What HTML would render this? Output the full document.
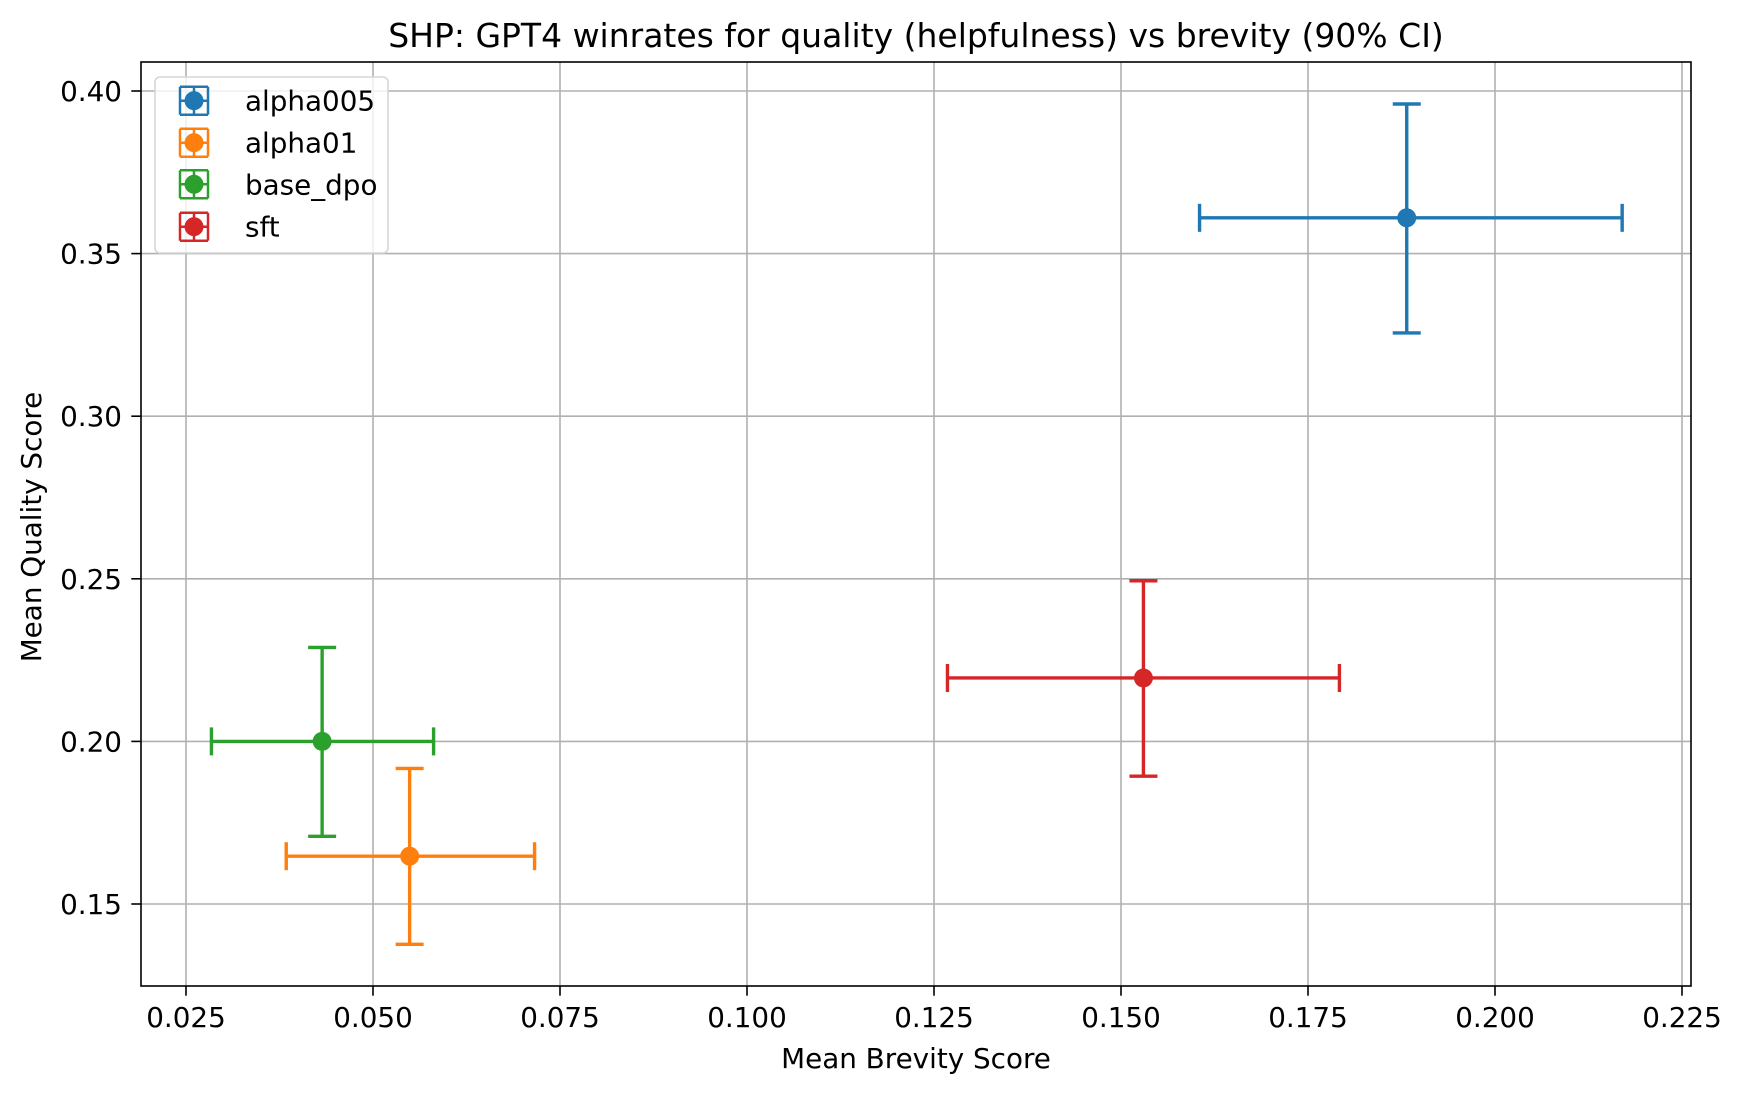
<!DOCTYPE html>
<html><head><meta charset="utf-8"><style>
html,body{margin:0;padding:0;background:#fff;}
svg{display:block;font-family:"DejaVu Sans","Liberation Sans",sans-serif;}
</style></head><body>
<svg id="chart" width="1741" height="1093" viewBox="0 0 1741 1093" xmlns="http://www.w3.org/2000/svg">
<rect x="0" y="0" width="1741" height="1093" fill="#fff"/>
<g id="grid"></g>
<g id="marks"></g>
<g id="axes"></g>
<text x="916" y="47" text-anchor="middle" font-size="33" fill="#000">SHP: GPT4 winrates for quality (helpfulness) vs brevity (90% CI)</text>
<text x="916" y="1068" text-anchor="middle" font-size="27.8" fill="#000">Mean Brevity Score</text>
<text x="0" y="0" transform="translate(41,527) rotate(-90)" text-anchor="middle" font-size="27.8" fill="#000">Mean Quality Score</text>
<g id="legend"></g>
</svg>
<script>
const seriesNames = ["alpha005","alpha01","base_dpo","sft"];
const seriesColors = ["#1f77b4","#ff7f0e","#2ca02c","#d62728"];
const xMean = [0.1882, 0.0549, 0.0432, 0.1530];
const yMean = [0.3610, 0.1647, 0.2000, 0.2195];
const xLow  = [0.1605, 0.0384, 0.0284, 0.1268];
const xHigh = [0.2170, 0.0716, 0.0581, 0.1792];
const yLow  = [0.3256, 0.1376, 0.1708, 0.1893];
const yHigh = [0.3960, 0.1917, 0.2289, 0.2494];
const xTicks = [0.025,0.050,0.075,0.100,0.125,0.150,0.175,0.200,0.225];
const xTickLabels = ["0.025","0.050","0.075","0.100","0.125","0.150","0.175","0.200","0.225"];
const yTicks = [0.15,0.20,0.25,0.30,0.35,0.40];
const yTickLabels = ["0.15","0.20","0.25","0.30","0.35","0.40"];

const L=141, R=1691, T=62, B=986;
function xs(v){return 186 + (v-0.025)/0.025*187;}
function ys(v){return 91 + (0.40-v)/0.05*162.6;}
const NS="http://www.w3.org/2000/svg";
function mk(tag, attrs, parent){const e=document.createElementNS(NS,tag);for(const k in attrs)e.setAttribute(k,attrs[k]);parent.appendChild(e);return e;}
const grid=document.getElementById('grid'), axes=document.getElementById('axes'), marks=document.getElementById('marks'), legend=document.getElementById('legend');

xTicks.forEach((t,i)=>{
  const x=xs(t);
  const g=mk('line',{x1:x,x2:x,y1:T,y2:B,stroke:'#b0b0b0','stroke-width':1.6},grid);
  
  
  const tk=mk('line',{x1:x,x2:x,y1:B,y2:B+9.7,stroke:'#000','stroke-width':1.6},axes);
  
  
  const lb=mk('text',{x:x,y:B+41,'text-anchor':'middle','font-size':27.8,fill:'#000'},axes);
  lb.textContent=xTickLabels[i];
  
  
});
yTicks.forEach((t,i)=>{
  const y=ys(t);
  const g=mk('line',{x1:L,x2:R,y1:y,y2:y,stroke:'#b0b0b0','stroke-width':1.6},grid);
  
  
  const tk=mk('line',{x1:L-9.7,x2:L,y1:y,y2:y,stroke:'#000','stroke-width':1.6},axes);
  
  
  const lb=mk('text',{x:L-19,y:y+10,'text-anchor':'end','font-size':27.8,fill:'#000'},axes);
  lb.textContent=yTickLabels[i];
  
  
});
const frame=mk('rect',{x:L,y:T,width:R-L,height:B-T,fill:'none',stroke:'#000','stroke-width':1.6},axes);



const cap=14, lw=3.4;
seriesNames.forEach((n,i)=>{
  const c=seriesColors[i];
  const g=mk('g',{},marks);
  
  
  const cx=xs(xMean[i]), cy=ys(yMean[i]);
  const x0=xs(xLow[i]), x1=xs(xHigh[i]), y0=ys(yLow[i]), y1=ys(yHigh[i]);
  mk('line',{x1:x0,x2:x1,y1:cy,y2:cy,stroke:c,'stroke-width':lw},g);
  mk('line',{x1:cx,x2:cx,y1:y0,y2:y1,stroke:c,'stroke-width':lw},g);
  mk('line',{x1:x0,x2:x0,y1:cy-cap,y2:cy+cap,stroke:c,'stroke-width':lw},g);
  mk('line',{x1:x1,x2:x1,y1:cy-cap,y2:cy+cap,stroke:c,'stroke-width':lw},g);
  mk('line',{x1:cx-cap,x2:cx+cap,y1:y0,y2:y0,stroke:c,'stroke-width':lw},g);
  mk('line',{x1:cx-cap,x2:cx+cap,y1:y1,y2:y1,stroke:c,'stroke-width':lw},g);
  const p=mk('circle',{cx:cx,cy:cy,r:9.5,fill:c},g);
  
  
});

const box=mk('rect',{x:155,y:77,width:233,height:176,rx:5,fill:'#fff','fill-opacity':0.8,stroke:'#d6d6d6','stroke-width':1.6},legend);


const legY=[100.7,142.7,184.3,226.7];
seriesNames.forEach((n,i)=>{
  const c=seriesColors[i], y=legY[i], x=194, h=14;
  const g=mk('g',{},legend);
  
  
  mk('line',{x1:x-h,x2:x+h,y1:y,y2:y,stroke:c,'stroke-width':2.5},g);
  mk('line',{x1:x,x2:x,y1:y-h,y2:y+h,stroke:c,'stroke-width':2.5},g);
  mk('line',{x1:x-h,x2:x-h,y1:y-h,y2:y+h,stroke:c,'stroke-width':2.5},g);
  mk('line',{x1:x+h,x2:x+h,y1:y-h,y2:y+h,stroke:c,'stroke-width':2.5},g);
  mk('line',{x1:x-h,x2:x+h,y1:y-h,y2:y-h,stroke:c,'stroke-width':2.5},g);
  mk('line',{x1:x-h,x2:x+h,y1:y+h,y2:y+h,stroke:c,'stroke-width':2.5},g);
  mk('circle',{cx:x,cy:y,r:9.5,fill:c},g);
  const t=mk('text',{x:245,y:y+10,'font-size':27.8,fill:'#000'},g);
  t.textContent=n;
});
</script>
</body></html>
